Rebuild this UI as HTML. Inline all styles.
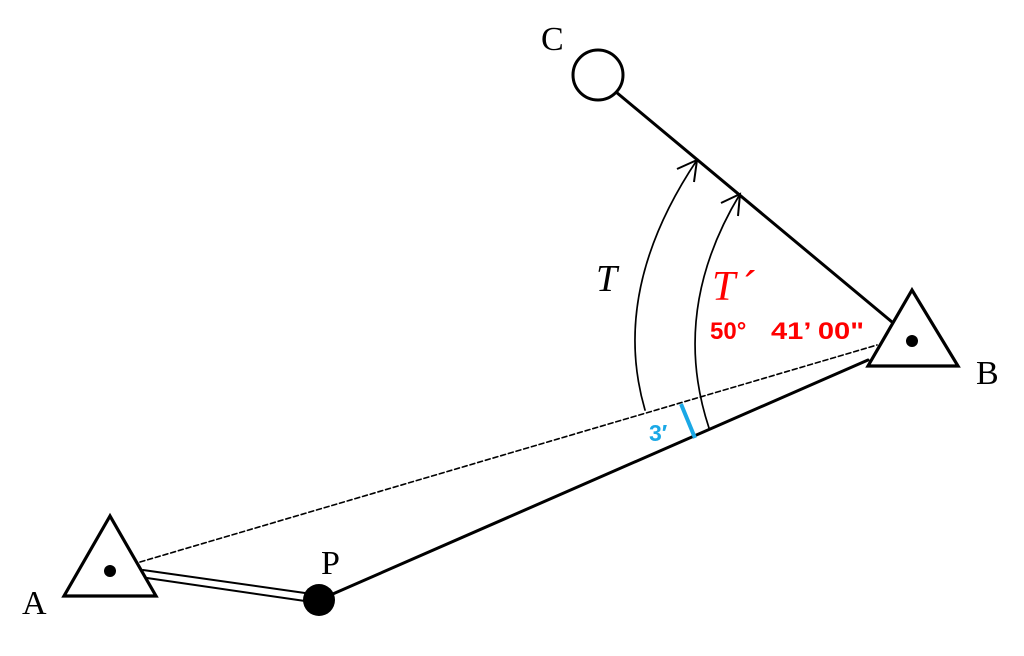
<!DOCTYPE html>
<html><head><meta charset="utf-8"><style>html,body{margin:0;padding:0;background:#fff}svg{display:block}</style></head>
<body>
<svg width="1024" height="656" viewBox="0 0 1024 656" xmlns="http://www.w3.org/2000/svg">
<g stroke="#000" fill="none" stroke-linecap="round">
  <line x1="616" y1="92" x2="892" y2="322" stroke-width="3"/>
  <line x1="140" y1="562" x2="877" y2="345" stroke-width="1.6" stroke-dasharray="5,3"/>
  <line x1="319" y1="600" x2="868" y2="360" stroke-width="3"/>
  <line x1="143" y1="570" x2="305" y2="593" stroke-width="2"/>
  <line x1="147" y1="578" x2="305" y2="601" stroke-width="2"/>
  <path d="M645,410 Q610,290 697,160" stroke-width="1.7"/>
  <path d="M709,428 Q670,310 740,194" stroke-width="1.7"/>
  <polyline points="677,169 697,160 694,182" stroke-width="2" stroke-linecap="butt"/>
  <polyline points="721,203 740,194 738,216" stroke-width="2" stroke-linecap="butt"/>
  <polygon points="110,516 64,596 156,596" stroke-width="3.2" fill="#fff"/>
  <polygon points="912,290 868,366 958,366" stroke-width="3.2" fill="#fff"/>
  <circle cx="598" cy="75" r="25" stroke-width="3" fill="#fff"/>
</g>
<circle cx="110" cy="571" r="6" fill="#000"/>
<circle cx="912" cy="341" r="6" fill="#000"/>
<circle cx="319" cy="600" r="16" fill="#000"/>
<line x1="681" y1="404" x2="695" y2="438" stroke="#1aa8e6" stroke-width="4"/>
<g font-family="Liberation Serif, serif" font-size="34" fill="#000">
  <text x="541" y="50">C</text>
  <text x="976" y="384">B</text>
  <text x="22" y="614">A</text>
  <text x="321" y="574">P</text>
  <text x="596" y="291" font-style="italic" font-size="38">T</text>
</g>
<text x="712" y="300" font-family="Liberation Serif, serif" font-style="italic" font-size="42" fill="#f00">T</text>
<text x="744" y="302" font-family="Liberation Sans, sans-serif" font-size="44" fill="#f00">´</text>
<g font-family="Liberation Sans, sans-serif" font-weight="bold" font-size="24" fill="#f00">
  <text x="710" y="339">50°</text>
  <text x="771" y="339" textLength="93" lengthAdjust="spacingAndGlyphs">41’ 00"</text>
</g>
<text x="649" y="441" font-family="Liberation Sans, sans-serif" font-weight="bold" font-size="23" fill="#1aa8e6">3′</text>
</svg>
</body></html>
